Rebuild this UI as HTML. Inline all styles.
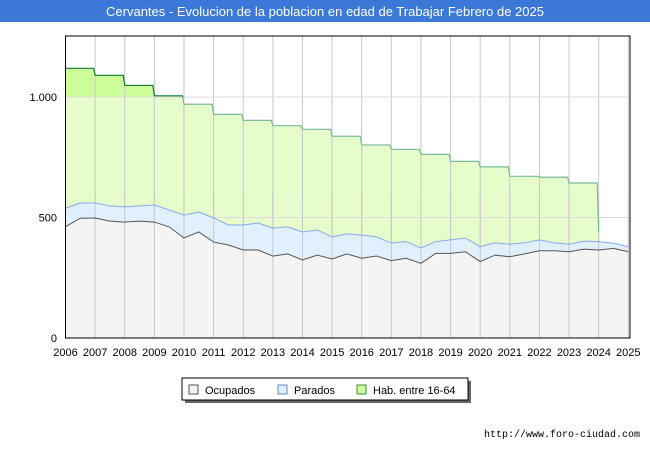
<!DOCTYPE html>
<html><head><meta charset="utf-8"><style>
body{margin:0;background:#fff;font-family:"Liberation Sans",sans-serif}
</style></head><body>
<svg width="650" height="450" xmlns="http://www.w3.org/2000/svg">
<rect x="0" y="0" width="650" height="450" fill="#fff"/>
<rect x="0" y="0" width="650" height="22" fill="#3b78d8"/>
<text x="325" y="16" text-anchor="middle" fill="#fff" font-size="13" font-family="Liberation Sans, sans-serif">Cervantes - Evolucion de la poblacion en edad de Trabajar Febrero de 2025</text>
<g id="plot"></g>
<g id="legend">
<rect x="185" y="381" width="286" height="22" fill="#666"/>
<rect x="182" y="378" width="286" height="22" fill="#fff" stroke="#000" stroke-width="1"/>
<rect x="189" y="385" width="9" height="9" fill="#f4f4f4" stroke="#555"/>
<text x="205" y="394" font-size="11">Ocupados</text>
<rect x="278" y="385" width="9" height="9" fill="#ddeeff" stroke="#6688cc"/>
<text x="294" y="394" font-size="11">Parados</text>
<rect x="357" y="385" width="9" height="9" fill="#ccff99" stroke="#448844"/>
<text x="373" y="394" font-size="11">Hab. entre 16-64</text>
</g>
<text x="640" y="437" text-anchor="end" font-size="10" font-family="Liberation Mono, monospace">http://www.foro-ciudad.com</text>
</svg>
<script>
const years=[2006,2007,2008,2009,2010,2011,2012,2013,2014,2015,2016,2017,2018,2019,2020,2021,2022,2023,2024,2025];
const habValues=[1119,1090,1048,1005,970,928,903,881,866,837,801,783,762,733,710,671,667,643];
const habLast=441;
const seriesTimes=[2006,2006.5,2007,2007.5,2008,2008.5,2009,2009.5,2010,2010.5,2011,2011.5,2012,2012.5,2013,2013.5,2014,2014.5,2015,2015.5,2016,2016.5,2017,2017.5,2018,2018.5,2019,2019.5,2020,2020.5,2021,2021.5,2022,2022.5,2023,2023.5,2024,2024.5,2025];
const paradosTotal=[539,560,560,548,544,548,552,531,510,523,498,469,469,477,456,461,440,448,419,432,427,420,394,400,373,400,407,415,379,395,389,395,407,395,389,402,400,393,379];
const ocupados=[462,497,498,485,481,485,481,461,415,440,398,386,365,365,340,349,324,344,328,349,331,340,321,331,310,351,351,358,317,344,337,349,362,362,358,369,365,372,358];
const yTicks=[0,500,1000];
const yTickLabels=["0","500","1.000"];

const L=65.5,R=630,T=36,B=338;
const xs=t=>L+(t-2006)*(628.3-65.5)/19;
const ys=v=>B-v*0.241;
const NS="http://www.w3.org/2000/svg";
const plot=document.getElementById('plot');
function mk(tag,attrs,parent){const e=document.createElementNS(NS,tag);for(const k in attrs)e.setAttribute(k,attrs[k]);(parent||plot).appendChild(e);return e;}

// defs clip
const defs=mk('defs',{});
const c1=mk('clipPath',{id:'above'},defs);mk('rect',{x:L,y:0,width:R-L,height:ys(1000)},c1);
const c2=mk('clipPath',{id:'below'},defs);mk('rect',{x:L,y:ys(1000),width:R-L,height:B-ys(1000)},c2);

// hab path
let hp=`M${xs(2006)},${ys(habValues[0])}`;
for(let i=0;i<habValues.length;i++){
  const xe=xs(years[i+1])-1.5;
  hp+=` L${xe},${ys(habValues[i])}`;
  const nv=i+1<habValues.length?habValues[i+1]:habLast;
  hp+=` L${xs(years[i+1])},${ys(nv)}`;
}
const habArea=hp+` L${xs(2024)},${B} L${xs(2006)},${B} Z`;
let e;
e=mk('path',{d:habArea,fill:'#ccff99','clip-path':'url(#above)'});


e=mk('path',{d:habArea,fill:'#e6fcca','clip-path':'url(#below)'});



// gridlines
for(let i=1;i<years.length;i++){
  e=mk('line',{x1:xs(years[i]),x2:xs(years[i]),y1:T,y2:B,stroke:'#c8c8c8','stroke-width':1});
  
  
}
yTicks.forEach((v,i)=>{
  if(v>0){e=mk('line',{x1:L,x2:R,y1:ys(v),y2:ys(v),stroke:'#dcdcdc','stroke-width':1});
  
  }
  e=mk('text',{x:57,y:ys(v)+4,'text-anchor':'end','font-size':11});
  e.textContent=yTickLabels[i];
  
  
});

// parados area
const pPts=seriesTimes.map((t,i)=>`${xs(t)},${ys(paradosTotal[i])}`);
const oPts=seriesTimes.map((t,i)=>`${xs(t)},${ys(ocupados[i])}`);
e=mk('path',{d:`M${pPts.join(' L')} L${xs(2025)},${B} L${xs(2006)},${B} Z`,fill:'#e0f0ff'});


e=mk('path',{d:`M${oPts.join(' L')} L${xs(2025)},${B} L${xs(2006)},${B} Z`,fill:'#f4f4f4'});


// redraw gridlines over areas lightly
for(let i=1;i<years.length;i++){
  e=mk('line',{x1:xs(years[i]),x2:xs(years[i]),y1:ys(600),y2:B,stroke:'#c8c8c8','stroke-width':1});
  
  
}
// lines
e=mk('path',{d:hp,fill:'none',stroke:'#117a33','stroke-width':1.2,'clip-path':'url(#above)'});


e=mk('path',{d:hp,fill:'none',stroke:'#77bb99','stroke-width':1.2,'clip-path':'url(#below)'});


e=mk('path',{d:'M'+pPts.join(' L'),fill:'none',stroke:'#88aaee','stroke-width':1});


e=mk('path',{d:'M'+oPts.join(' L'),fill:'none',stroke:'#555','stroke-width':1});



// frame
e=mk('rect',{x:L,y:T,width:R-L,height:B-T,fill:'none',stroke:'#000','stroke-width':1});


years.forEach(y=>{
  e=mk('text',{x:xs(y),y:356,'text-anchor':'middle','font-size':11});
  e.textContent=y;
  
  
});
</script>
</body></html>
